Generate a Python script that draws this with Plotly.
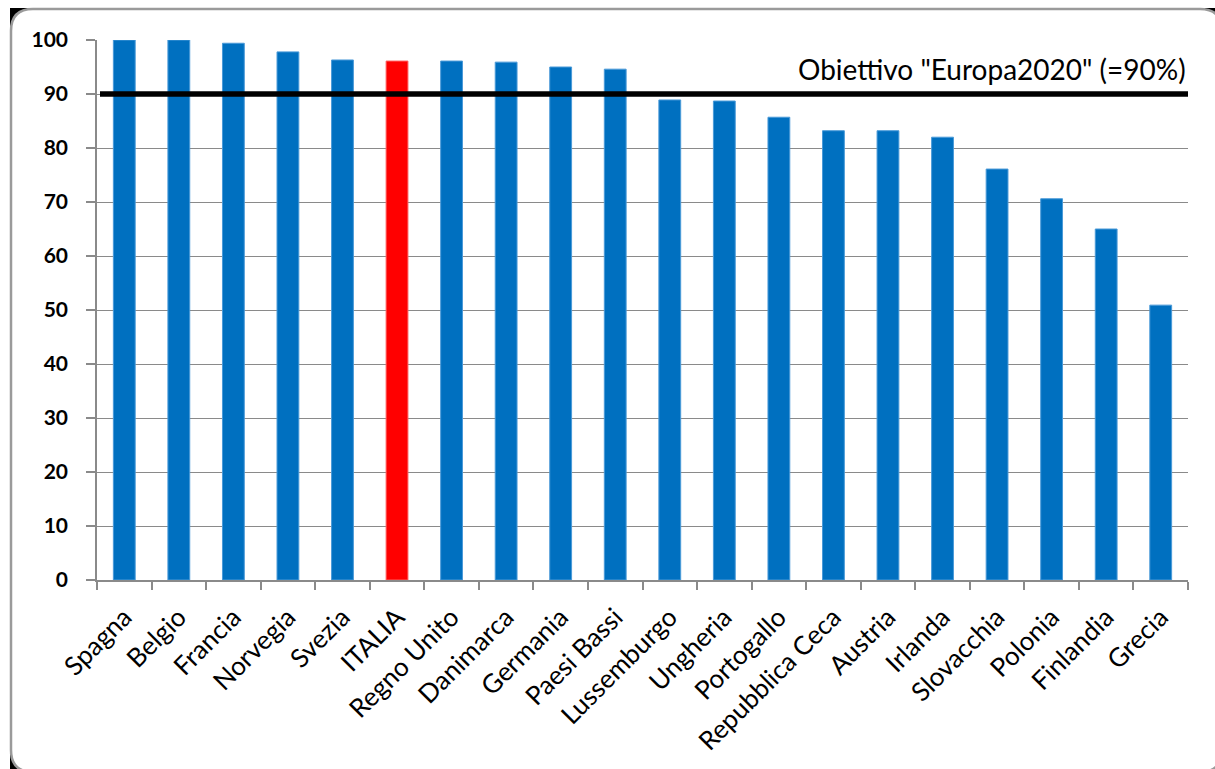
import plotly.graph_objects as go

# Data: percentage by country, with the Europe 2020 target
countries = [
    "Spagna", "Belgio", "Francia", "Norvegia", "Svezia", "ITALIA",
    "Regno Unito", "Danimarca", "Germania", "Paesi Bassi", "Lussemburgo",
    "Ungheria", "Portogallo", "Repubblica Ceca", "Austria", "Irlanda",
    "Slovacchia", "Polonia", "Finlandia", "Grecia",
]
values = [
    100.0, 100.0, 99.4, 97.8, 96.3, 96.1,
    96.1, 95.9, 95.0, 94.6, 88.9,
    88.7, 85.7, 83.2, 83.2, 82.0,
    76.1, 70.6, 65.0, 50.9,
]
highlight = "ITALIA"
target = 90
target_label = 'Obiettivo "Europa2020" (=90%)'
y_ticks = list(range(0, 101, 10))

W, H = 1215, 769
ML, MR, MT, MB = 97, 27, 40, 189
PW, PH = W - ML - MR, H - MT - MB


def px_x(px):
    return (px - ML) / PW


def px_y(py):
    return (H - MB - py) / PH


blue = "#0070C0"
red = "#FF0000"
grid = "#8a8a8a"
colors = [red if c == highlight else blue for c in countries]
edge = ["#ff6060" if c == highlight else "#4a9ad8" for c in countries]

fig = go.Figure()
fig.add_trace(go.Bar(
    x=countries, y=values,
    marker=dict(color=colors, line=dict(color=edge, width=1)),
    width=0.4,
    hoverinfo="x+y",
))

# Rounded frame around the chart, dark behind its corners
x0, y0, x1, y1, r = 11, 9, 1222, 772, 22
frame_path = (
    f"M {px_x(x0 + r)} {px_y(y0)} L {px_x(x1 - r)} {px_y(y0)} "
    f"Q {px_x(x1)} {px_y(y0)} {px_x(x1)} {px_y(y0 + r)} "
    f"L {px_x(x1)} {px_y(y1 - r)} "
    f"Q {px_x(x1)} {px_y(y1)} {px_x(x1 - r)} {px_y(y1)} "
    f"L {px_x(x0 + r)} {px_y(y1)} "
    f"Q {px_x(x0)} {px_y(y1)} {px_x(x0)} {px_y(y1 - r)} "
    f"L {px_x(x0)} {px_y(y0 + r)} "
    f"Q {px_x(x0)} {px_y(y0)} {px_x(x0 + r)} {px_y(y0)} Z"
)
fig.add_shape(type="rect", xref="paper", yref="paper",
              x0=px_x(x0 - 1), x1=px_x(x1 + 2), y0=px_y(y0 - 1), y1=px_y(y1 + 2),
              fillcolor="black", line=dict(width=0), layer="below")
fig.add_shape(type="path", xref="paper", yref="paper", path=frame_path,
              fillcolor="white", line=dict(color="#9a9a9a", width=2.5), layer="below")

# Target line
fig.add_shape(type="line", xref="paper", yref="y",
              x0=px_x(100), x1=1, y0=target, y1=target,
              line=dict(color="black", width=5.5), layer="above")
fig.add_annotation(xref="paper", yref="y", x=1, y=target,
                   xanchor="right", yanchor="bottom", yshift=6, showarrow=False,
                   text=target_label,
                   font=dict(family="Lato", size=28, color="black"))

fig.update_layout(
    width=W, height=H,
    margin=dict(l=ML, r=MR, t=MT, b=MB),
    paper_bgcolor="white",
    plot_bgcolor="rgba(0,0,0,0)",
    showlegend=False,
    bargap=0.6,
    font=dict(family="Lato", color="black"),
)
fig.update_xaxes(
    type="category",
    tickangle=-45,
    tickson="boundaries",
    ticks="outside", ticklen=8, tickcolor=grid, tickwidth=1.5,
    showline=True, linecolor=grid, linewidth=1.5,
    showgrid=False,
    ticklabelstandoff=10,
    tickfont=dict(family="Lato", size=26, color="black"),
)
fig.update_yaxes(
    range=[0, 100],
    tickvals=y_ticks,
    ticks="outside", ticklen=9, tickcolor=grid, tickwidth=1.5,
    showline=True, linecolor=grid, linewidth=1.5,
    showgrid=True, gridcolor=grid, gridwidth=1.2,
    zeroline=False,
    ticklabelstandoff=14,
    tickfont=dict(family="Lato", size=21, color="black", weight="bold"),
)

fig.write_html("out.html")
